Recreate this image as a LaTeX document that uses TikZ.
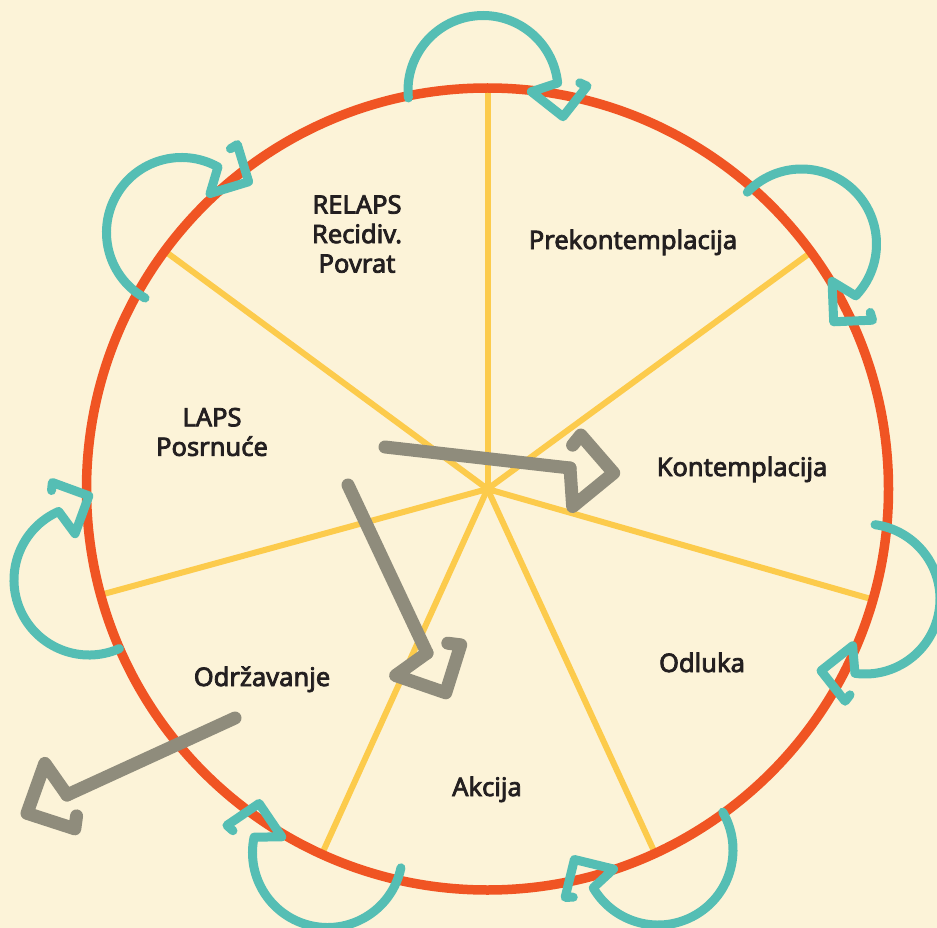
\documentclass[tikz,border=0pt]{standalone}
\usepackage{fontspec}
\setmainfont{Noto Sans}
\newfontfamily\labfont{Noto Sans}[FakeBold=3]
\definecolor{bgc}{HTML}{FCF3D8}
\definecolor{ringc}{HTML}{F05423}
\definecolor{spokec}{HTML}{FCCB4C}
\definecolor{tealc}{HTML}{55BEB4}
\definecolor{grayc}{HTML}{8F8C7C}
\definecolor{txtc}{HTML}{231F20}
\begin{document}
\begin{tikzpicture}[x=1pt,y=1pt,
  lab/.style={font=\labfont\fontsize{25.5}{29.5}\selectfont, text=txtc, align=center, inner sep=0pt},
  spokeline/.style={spokec, line width=6pt},
  ringline/.style={ringc, line width=9.5pt},
  loopline/.style={tealc, line width=9pt, line cap=round, line join=round},
  backline/.style={grayc, line width=13pt, line cap=round, line join=round},
  loop/.pic={\draw[loopline] (-75,0) arc[start angle=180,end angle=0,radius=75pt] -- (48,-6) -- (77,-34) -- (104,-6) -- (97,-2);},
  ghead/.pic={\draw[backline] (0,0) -- (7,-38) -- (44,0) -- (7,34) -- (0,23);}
]
\useasboundingbox (0,0) rectangle (937,-928);
\fill[bgc] (0,0) rectangle (937,-928);
\coordinate (O) at (487.5,-489);
\foreach \a in {90,36.2,-16,-65.3,-114.4,-164.7,143.6}
  \draw[spokeline] (O) -- ++(\a:400);
\draw[ringline] (O) circle[radius=401pt];
% teal loops
\pic[rotate=5.7] at (483,-90.5) {loop};
\pic[rotate=60.9] at (181.5,-232.5) {loop};
\pic[rotate=-43.7] at (801.5,-244) {loop};
\pic[rotate=-97.7] at (865,-599) {loop};
\pic[rotate=-149.7] at (658,-850) {loop};
\pic[rotate=168.2] at (327.5,-852.5) {loop};
\pic[rotate=113.9] at (89,-580) {loop};
% gray arrows
\coordinate (g1s) at (385,-447);
\coordinate (g1e) at (570,-468);
\coordinate (g2s) at (348,-485);
\coordinate (g2e) at (427,-653);
\coordinate (g3s) at (235,-718);
\coordinate (g3e) at (67,-795);
\draw[backline] (g1s) -- (g1e);
\pic[rotate=-6.5] at (g1e) {ghead};
\draw[backline] (g2s) -- (g2e);
\pic[rotate=-64.8] at (g2e) {ghead};
\draw[backline] (g3s) -- (g3e);
\pic[rotate=204.6] at (g3e) {ghead};
% labels
\node[lab] (relaps) at (357,-234) {RELAPS\\Recidiv.\\Povrat};
\node[lab, anchor=base] (prek) at (633,-249) {Prekontemplacija};
\node[lab, anchor=base] (kont) at (742,-476) {Kontemplacija};
\node[lab, anchor=base] (odl) at (702,-672) {Odluka};
\node[lab, anchor=base] (akc) at (487,-796) {Akcija};
\node[lab, anchor=base] (odr) at (262,-686) {Održavanje};
\node[lab] (laps) at (212,-432) {LAPS\\Posrnuće};
\end{tikzpicture}
\end{document}
